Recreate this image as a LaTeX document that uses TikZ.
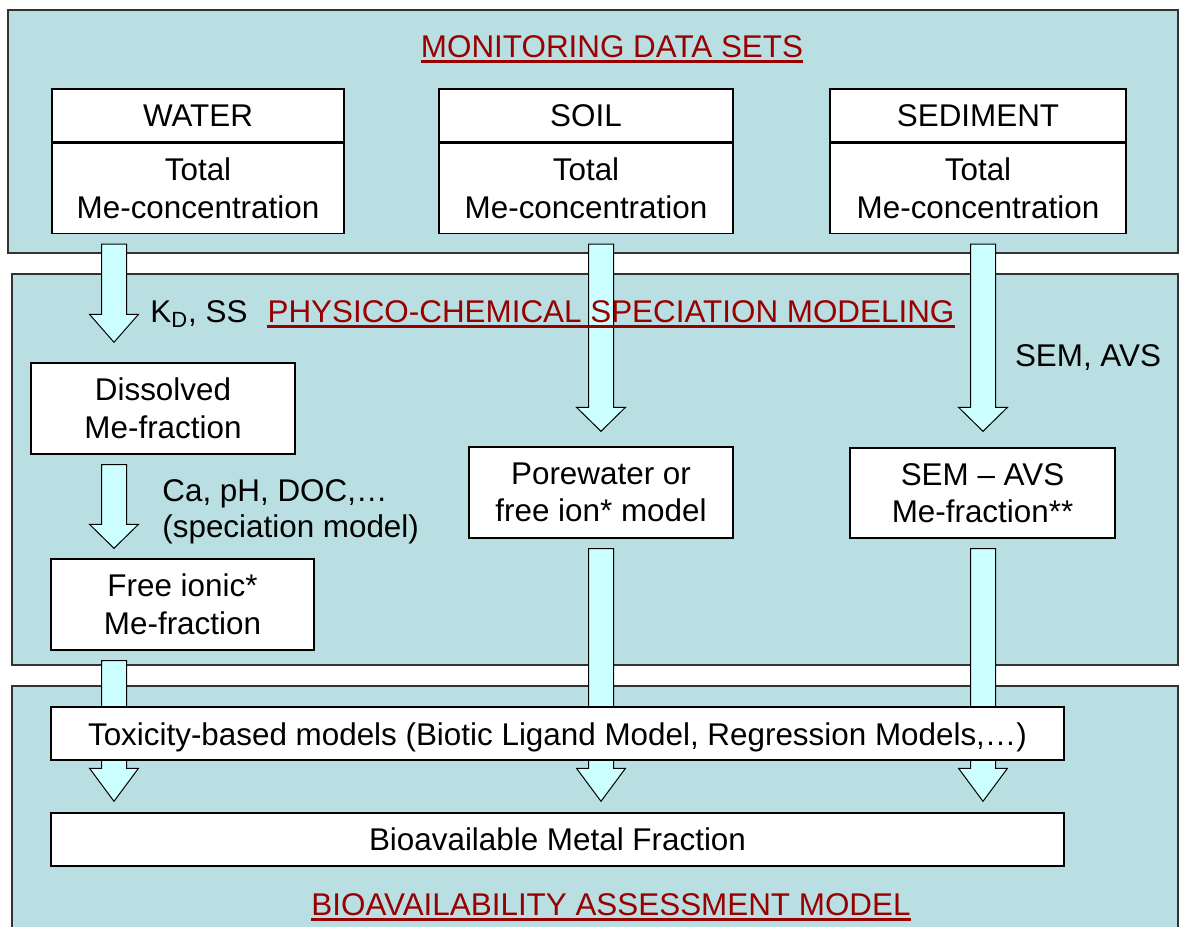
\documentclass[tikz,border=0pt]{standalone}
\usepackage{fontspec}
\setmainfont{Liberation Sans}
\usetikzlibrary{calc,positioning}

\definecolor{panelblue}{RGB}{186,223,226}
\definecolor{arrowcyan}{RGB}{204,255,255}
\definecolor{titlered}{RGB}{153,0,0}

% block arrow: column, from node, to node, gap above tip, head length
\newcommand{\fatarrow}[5]{%
  \path[fatarrow] let \p1=(#1), \p2=(#2), \p3=(#3) in
    (\x1-6.25pt,\y2-5pt) -- (\x1+6.25pt,\y2-5pt) -- (\x1+6.25pt,\y3+#4+#5)
    -- (\x1+12.25pt,\y3+#4+#5) -- (\x1,\y3+#4) -- (\x1-12.25pt,\y3+#4+#5)
    -- (\x1-6.25pt,\y3+#4+#5) -- cycle;}

\begin{document}
\begin{tikzpicture}[x=0.5pt,y=-0.5pt,
    every node/.style={font=\fontsize{15.7pt}{18.8pt}\selectfont},
    panel/.style={fill=panelblue,draw=black!80,line width=0.6pt},
    box/.style={draw=black,fill=white,line width=0.7pt,align=center,inner sep=0pt},
    fatarrow/.style={draw=black,fill=arrowcyan,line width=0.5pt},
    paneltitle/.style={text=titlered,inner sep=0pt,anchor=base},
    uline/.style={draw=titlered,line width=1.2pt},
    note/.style={inner sep=0pt}]
    \clip (0,0) rectangle (1179,927);

    % panels
    \draw[panel] (8,10) rectangle (1178,253);
    \draw[panel] (12,274) rectangle (1178,665);
    \draw[panel] (12,686) rectangle (1178,940);

    % monitoring data
    \node[box,minimum width=146pt,minimum height=26.5pt] (waterhd) at (198,115.5) {WATER};
    \node[box,minimum width=146pt,minimum height=45pt,below=0pt of waterhd] (water) {Total\\Me-concentration};
    \node[box,minimum width=147pt,minimum height=26.5pt] (soilhd) at (586,115.5) {SOIL};
    \node[box,minimum width=147pt,minimum height=45pt,below=0pt of soilhd] (soil) {Total\\Me-concentration};
    \node[box,minimum width=148pt,minimum height=26.5pt] (sedhd) at (978,115.5) {SEDIMENT};
    \node[box,minimum width=148pt,minimum height=45pt,below=0pt of sedhd] (sed) {Total\\Me-concentration};

    % speciation
    \node[box,minimum width=132pt,minimum height=45.5pt] (dissolved) at (163,408.5) {Dissolved\\Me-fraction};
    \node[box,minimum width=131.5pt,minimum height=45.5pt] (freeion) at (182.5,604.5) {Free ionic*\\Me-fraction};
    \node[box,minimum width=132pt,minimum height=45.5pt] (pore) at (601,492.5) {Porewater or\\free ion* model};
    \node[box,minimum width=132.5pt,minimum height=45pt] (sem) at (982.5,493) {SEM -- AVS\\Me-fraction**};
    \node[box,minimum width=506.5pt,minimum height=26.5pt] (bioavail) at (557.5,839.5) {Bioavailable Metal Fraction};

    % arrows
    \coordinate (wcol) at (114,0);
    \coordinate (scol) at (601,0);
    \coordinate (dcol) at (983,0);
    \fatarrow{wcol}{water.south}{dissolved.north}{10pt}{14pt}
    \fatarrow{wcol}{dissolved.south}{freeion.north}{5pt}{12pt}
    \fatarrow{wcol}{freeion.south}{bioavail.north}{5.5pt}{16.5pt}
    \fatarrow{scol}{soil.south}{pore.north}{7.5pt}{12pt}
    \fatarrow{scol}{pore.south}{bioavail.north}{5.5pt}{16.5pt}
    \fatarrow{dcol}{sed.south}{sem.north}{8pt}{12pt}
    \fatarrow{dcol}{sem.south}{bioavail.north}{5.5pt}{16.5pt}

    \node[box,minimum width=506.5pt,minimum height=26.5pt,text height=11.5pt,text depth=0pt] (tox) at (557.5,733.5) {Toxicity-based models (Biotic Ligand Model, Regression Models,…)};

    % labels
    \node[note,anchor=base] (kdss) at (199,322) {K\textsubscript{D}, SS};
    \node[note,anchor=base] (semavs) at (1088,366) {SEM, AVS};
    \node[note,anchor=north west,align=left,font=\fontsize{15.7pt}{18pt}\selectfont] (caph) at (162,479) {Ca, pH, DOC,…\\(speciation model)};

    % panel titles
    \node[paneltitle] (montitle) at (612,57) {MONITORING DATA SETS};
    \node[paneltitle] (spectitle) at (611,322) {PHYSICO-CHEMICAL SPECIATION MODELING};
    \node[paneltitle] (biotitle) at (611,915) {BIOAVAILABILITY ASSESSMENT MODEL};
    \draw[uline] ([yshift=-2.2pt]montitle.base west) -- ([yshift=-2.2pt]montitle.base east);
    \draw[uline] ([yshift=-2.2pt]spectitle.base west) -- ([yshift=-2.2pt]spectitle.base east);
    \draw[uline] ([yshift=-2.2pt]biotitle.base west) -- ([yshift=-2.2pt]biotitle.base east);
\end{tikzpicture}
\end{document}
